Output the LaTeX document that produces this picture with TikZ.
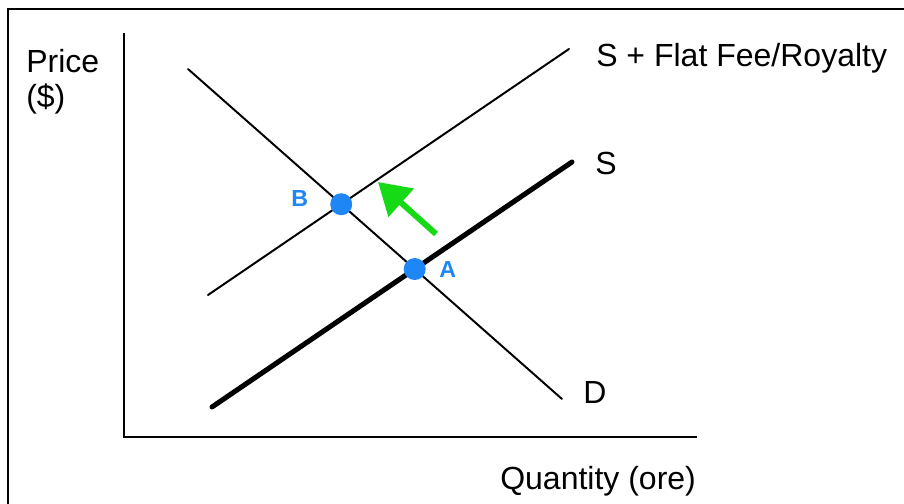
\documentclass[tikz,border=0pt]{standalone}
\usepackage{fontspec}
\setmainfont{Liberation Sans}
\usepackage{xcolor}
\usetikzlibrary{arrows.meta}
\definecolor{ptblue}{RGB}{30,135,245}
\definecolor{shiftgreen}{RGB}{22,218,22}
\tikzset{
  frameline/.style={line width=1.3pt,black},
  axisline/.style={line width=1.4pt,black},
  curve/.style={line width=1.4pt,black,line cap=round},
  thickcurve/.style={line width=3.6pt,black,line cap=round},
  eqpt/.style={circle,fill=ptblue,inner sep=0pt,minimum size=0.55cm},
  ptlab/.style={font=\fontsize{16.5}{19}\selectfont\bfseries,text=ptblue,inner sep=0pt},
  lab/.style={font=\fontsize{22.76}{27}\selectfont,inner sep=0pt},
  shiftarrow/.style={line width=4.2pt,shiftgreen,-{Triangle[length=0.78cm,width=0.92cm]}}
}

\begin{document}
\begin{tikzpicture}[x=0.025cm,y=-0.025cm]
  \useasboundingbox (0,0) rectangle (904,504);
  % frame (left and top edges only)
  \coordinate (fbl) at (8,504);
  \coordinate (ftl) at (8,9);
  \coordinate (ftr) at (904,9);
  \draw[frameline] (fbl) -- (ftl) -- (ftr);

  % axes
  \coordinate (ytop) at (124,33);
  \coordinate (orig) at (124,437);
  \coordinate (xend) at (697,437);
  \draw[axisline] (ytop) -- (orig) -- (xend);

  % curves
  \coordinate (d1) at (188,69);
  \coordinate (d2) at (562,399);
  \coordinate (s1) at (212,407);
  \coordinate (s2) at (572,162);
  \coordinate (f1) at (208,295);
  \coordinate (f2) at (569,49);
  \draw[curve] (d1) -- (d2);
  \draw[curve] (f1) -- (f2);
  \draw[thickcurve] (s1) -- (s2);

  % shift arrow
  \coordinate (tail) at (436,234);
  \coordinate (tip) at (378,182);
  \draw[shiftarrow] (tail) -- (tip);

  % equilibria
  \node[eqpt] (ptA) at (intersection of d1--d2 and s1--s2) {};
  \node[eqpt] (ptB) at (intersection of d1--d2 and f1--f2) {};
  \node[ptlab,anchor=base west] (labA) at (439,278) {A};
  \node[ptlab,anchor=base west] (labB) at (291,207) {B};

  % labels
  \node[lab,anchor=base west] (price) at (26,73) {Price};
  \node[lab,anchor=base west] (dollar) at (26,108) {(\$)};
  \node[lab,anchor=base west] (qty) at (500,490) {Quantity (ore)};
  \node[lab,anchor=base west] (labF) at (596,67) {S + Flat Fee/Royalty};
  \node[lab,anchor=base west] (labS) at (595,175) {S};
  \node[lab,anchor=base west] (labD) at (583,404) {D};
\end{tikzpicture}
\end{document}
